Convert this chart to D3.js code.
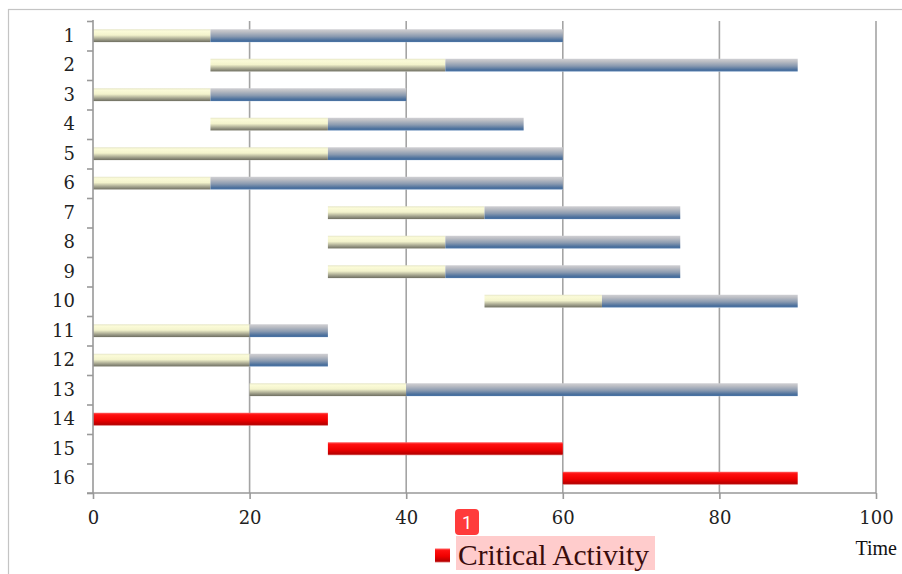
<!DOCTYPE html>
<html><head><meta charset="utf-8">
<script src="https://cdn.jsdelivr.net/npm/d3@7"></script>
<style>body{margin:0;background:#fff}svg{display:block}</style>
</head><body>
<script>
const activities = ["1","2","3","4","5","6","7","8","9","10","11","12","13","14","15","16"];
const startTimes = [0,15,0,15,0,0,30,30,30,50,0,0,20,0,30,60];
const durations  = [15,30,15,15,30,15,20,15,15,15,20,20,20,30,30,30];
const slackTimes = [45,45,25,25,30,45,25,30,30,25,10,10,50,0,0,0];
const criticalFlags = [false,false,false,false,false,false,false,false,false,false,false,false,false,true,true,true];
const xTicks = [0,20,40,60,80,100];
const legendLabel = "Critical Activity";
const xTitle = "Time";

const W = 902, H = 574;
const svg = d3.select("body").append("svg").attr("width", W).attr("height", H);
const defs = svg.append("defs");
function grad(id, stops){
  const g = defs.append("linearGradient").attr("id", id).attr("x1",0).attr("y1",0).attr("x2",0).attr("y2",1);
  stops.forEach(s => g.append("stop").attr("offset", s[0]).attr("stop-color", s[1]));
}
grad("gYellow", [[0,"#e6e6c8"],[0.15,"#fbfbd8"],[0.45,"#f3f3cc"],[0.8,"#9a9a86"],[0.95,"#777768"],[1,"#c8c8c0"]]);
grad("gBlue", [[0,"#d0d0d4"],[0.2,"#bcbec4"],[0.55,"#8a9ab0"],[0.85,"#4a6f9c"],[0.95,"#4a72a2"],[1,"#b8cce4"]]);
grad("gRed", [[0,"#ff6060"],[0.15,"#ff1010"],[0.55,"#f00000"],[0.9,"#b80000"],[1,"#e08080"]]);

// outer frame
svg.append("rect").attr("x",8.5).attr("y",9.5).attr("width",1000).attr("height",1000)
  .attr("fill","none").attr("stroke","#c4c4c4").attr("stroke-width",1.2);

const x = d3.scaleLinear().domain([0,100]).range([93,876]);
const y = d3.scaleBand().domain(activities).range([21,493]);
const yl = d3.scaleLinear().domain([0,activities.length]).range([21,493]);

// gridlines
svg.append("g").selectAll("line").data(xTicks.filter(t=>t>0)).join("line")
  .attr("x1",d=>x(d)).attr("x2",d=>x(d)).attr("y1",21).attr("y2",493)
  .attr("stroke","#a4a4a4").attr("stroke-width",1.6);

// bars
const rows = activities.map((a,i)=>({a, s:startTimes[i], d:durations[i], f:slackTimes[i], c:criticalFlags[i]}));
const bh = y.bandwidth()*0.44;
const gBars = svg.append("g");
rows.forEach(r=>{
  const yy = y(r.a) + (y.bandwidth()-bh)/2;
  gBars.append("rect").attr("x",x(r.s)).attr("y",yy).attr("width",x(r.s+r.d)-x(r.s)).attr("height",bh)
    .attr("fill", r.c ? "url(#gRed)" : "url(#gYellow)");
  if (r.f>0) gBars.append("rect").attr("x",x(r.s+r.d)).attr("y",yy).attr("width",x(r.s+r.d+r.f)-x(r.s+r.d)).attr("height",bh)
    .attr("fill","url(#gBlue)");
});

// y axis ticks at band boundaries
const yAx = svg.append("g").attr("transform","translate(93,0)")
  .call(d3.axisLeft(yl).tickValues(d3.range(activities.length+1)).tickFormat("").tickSize(6).tickSizeOuter(0));
yAx.selectAll("path,line").attr("stroke","#999").attr("stroke-width",1.6);
yAx.select("path").attr("d","M0,20V493");
// y labels
const yLab = svg.append("g").attr("transform","translate(93,0)")
  .call(d3.axisLeft(y).tickSize(0).tickPadding(18));
yLab.select("path").remove();
yLab.selectAll("text").attr("font-family","DejaVu Serif").attr("font-size",18).attr("fill","#222");

// x axis
const xAx = svg.append("g").attr("transform","translate(0,493)")
  .call(d3.axisBottom(x).tickValues(xTicks).tickSize(6).tickSizeOuter(0).tickPadding(12));
xAx.selectAll("path,line").attr("stroke","#999").attr("stroke-width",1.6);
xAx.select("path").attr("d","M87,0H876");
xAx.selectAll("text").attr("font-family","DejaVu Serif").attr("font-size",18).attr("fill","#222");

// x title
svg.append("text").attr("x",897).attr("y",555).attr("text-anchor","end")
  .attr("font-family","Liberation Serif").attr("font-size",20).attr("fill","#111").text(xTitle);

// legend
svg.append("rect").attr("x",456).attr("y",536).attr("width",199).attr("height",34).attr("fill","#ffcccc");
svg.append("rect").attr("x",435).attr("y",548.5).attr("width",15).attr("height",14).attr("fill","url(#gRed)");
svg.append("text").attr("x",458).attr("y",565).attr("font-family","Liberation Serif").attr("font-size",29.5)
  .attr("fill","#3a0c0c").text(legendLabel);
// badge
svg.append("rect").attr("x",455).attr("y",509).attr("width",24).attr("height",26).attr("rx",4).attr("fill","#ff3b3b");
svg.append("text").attr("x",467).attr("y",529).attr("text-anchor","middle").attr("font-family","Roboto")
  .attr("font-size",18).attr("fill","#fff").text("1");
</script>
</body></html>
